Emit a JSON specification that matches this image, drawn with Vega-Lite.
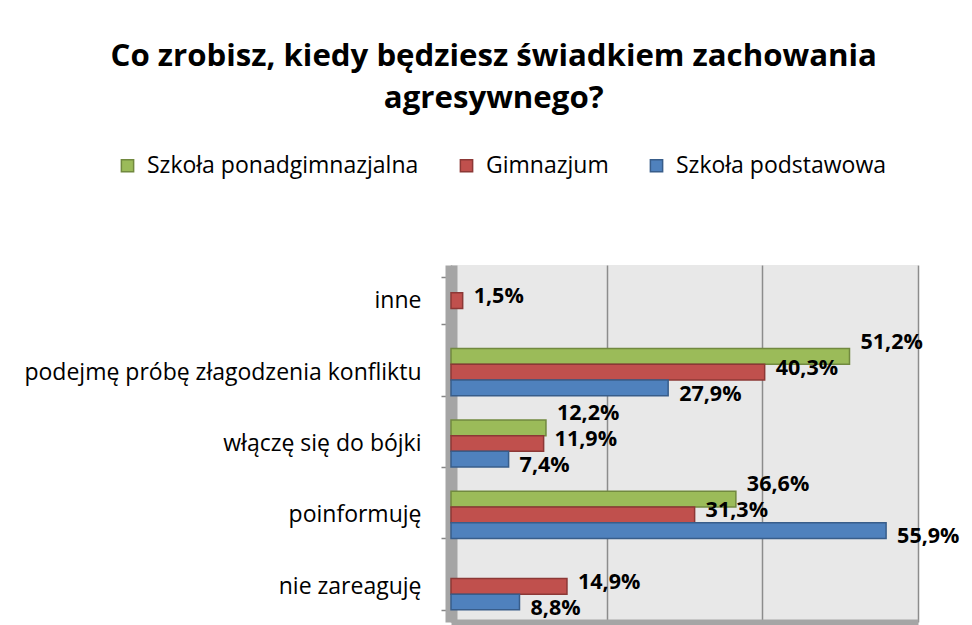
{
  "$schema": "https://vega.github.io/schema/vega-lite/v6.json",
  "autosize": {"type": "none"},
  "width": 467,
  "height": 357,
  "padding": {"left": 451, "top": 265, "right": 54, "bottom": 3},
  "background": "white",
  "title": {
    "text": ["Co zrobisz, kiedy będziesz świadkiem zachowania", "agresywnego?"],
    "anchor": "middle",
    "frame": "bounds",
    "font": "Open Sans",
    "fontSize": 31.2,
    "fontWeight": "bold",
    "color": "#000000",
    "lineHeight": 42,
    "offset": 40,
    "dx": 2
  },
  "config": {
    "locale": {"number": {"decimal": ",", "thousands": " ", "grouping": [3], "currency": ["", " zł"]}},
    "view": {"fill": "#e8e8e8", "stroke": null},
    "font": "Open Sans"
  },
  "data": {
    "values": [
      {"kategoria": "inne", "szkola": "Gimnazjum", "wartosc": 0.015},
      {"kategoria": "podejmę próbę złagodzenia konfliktu", "szkola": "Szkoła ponadgimnazjalna", "wartosc": 0.512},
      {"kategoria": "podejmę próbę złagodzenia konfliktu", "szkola": "Gimnazjum", "wartosc": 0.403},
      {"kategoria": "podejmę próbę złagodzenia konfliktu", "szkola": "Szkoła podstawowa", "wartosc": 0.279},
      {"kategoria": "włączę się do bójki", "szkola": "Szkoła ponadgimnazjalna", "wartosc": 0.122},
      {"kategoria": "włączę się do bójki", "szkola": "Gimnazjum", "wartosc": 0.119},
      {"kategoria": "włączę się do bójki", "szkola": "Szkoła podstawowa", "wartosc": 0.074},
      {"kategoria": "poinformuję", "szkola": "Szkoła ponadgimnazjalna", "wartosc": 0.366},
      {"kategoria": "poinformuję", "szkola": "Gimnazjum", "wartosc": 0.313},
      {"kategoria": "poinformuję", "szkola": "Szkoła podstawowa", "wartosc": 0.559},
      {"kategoria": "nie zareaguję", "szkola": "Gimnazjum", "wartosc": 0.149},
      {"kategoria": "nie zareaguję", "szkola": "Szkoła podstawowa", "wartosc": 0.088}
    ]
  },
  "encoding": {
    "y": {
      "field": "kategoria",
      "type": "nominal",
      "sort": ["inne", "podejmę próbę złagodzenia konfliktu", "włączę się do bójki", "poinformuję", "nie zareaguję"],
      "scale": {"paddingInner": 0.34, "paddingOuter": 0.17},
      "axis": {
        "title": null,
        "tickBand": "extent",
        "tickSize": 10,
        "tickColor": "#868686",
        "tickWidth": 1.5,
        "domainColor": "#a5a5a5",
        "domainWidth": 12,
        "labelFont": "Open Sans",
        "labelFontSize": 23,
        "labelColor": "#000000",
        "labelPadding": 20,
        "labelLimit": 500
      }
    },
    "x": {
      "field": "wartosc",
      "type": "quantitative",
      "scale": {"domain": [0, 0.6], "nice": false},
      "axis": {
        "title": null,
        "values": [0, 0.2, 0.4, 0.6],
        "labels": false,
        "ticks": false,
        "grid": true,
        "gridColor": "#8c8c8c",
        "gridWidth": 1.5,
        "domainColor": "#a5a5a5",
        "domainWidth": 6
      }
    }
  },
  "layer": [
    {
      "mark": {"type": "bar", "strokeWidth": 1.5},
      "encoding": {
        "yOffset": {
          "field": "szkola",
          "type": "nominal",
          "sort": ["Szkoła ponadgimnazjalna", "Gimnazjum", "Szkoła podstawowa"],
          "scale": {"paddingInner": 0, "paddingOuter": 0}
        },
        "color": {
          "field": "szkola",
          "type": "nominal",
          "scale": {
            "domain": ["Szkoła ponadgimnazjalna", "Gimnazjum", "Szkoła podstawowa"],
            "range": ["#9bbb59", "#c0504d", "#4f81bd"]
          },
          "legend": {
            "title": null,
            "orient": "none",
            "direction": "horizontal",
            "legendX": -335,
            "legendY": -111,
            "symbolType": "square",
            "symbolSize": 150,
            "symbolStrokeWidth": 1.5,
            "labelFont": "Open Sans",
            "labelFontSize": 23,
            "labelColor": "#000000",
            "labelOffset": 8,
            "columnPadding": 36,
            "labelLimit": 400
          }
        },
        "stroke": {
          "field": "szkola",
          "type": "nominal",
          "scale": {
            "domain": ["Szkoła ponadgimnazjalna", "Gimnazjum", "Szkoła podstawowa"],
            "range": ["#71893f", "#8c3836", "#385d8a"]
          },
          "legend": {
            "title": null,
            "orient": "none",
            "direction": "horizontal",
            "legendX": -335,
            "legendY": -111,
            "symbolType": "square",
            "symbolSize": 150,
            "symbolStrokeWidth": 1.5,
            "labelFont": "Open Sans",
            "labelFontSize": 23,
            "labelColor": "#000000",
            "labelOffset": 8,
            "columnPadding": 36,
            "labelLimit": 400
          }
        }
      }
    },
    {
      "mark": {"type": "text", "align": "left", "baseline": "middle", "dx": 11, "font": "Open Sans", "fontSize": 21.5, "fontWeight": "bold", "color": "#000000"},
      "encoding": {
        "yOffset": {
          "field": "szkola",
          "type": "nominal",
          "sort": ["Szkoła ponadgimnazjalna", "Gimnazjum", "Szkoła podstawowa"],
          "scale": {"type": "point", "range": [-6, 46], "padding": 0}
        },
        "text": {"field": "wartosc", "type": "quantitative", "format": ".1%"}
      }
    }
  ],
  "resolve": {"scale": {"yOffset": "independent"}}
}
